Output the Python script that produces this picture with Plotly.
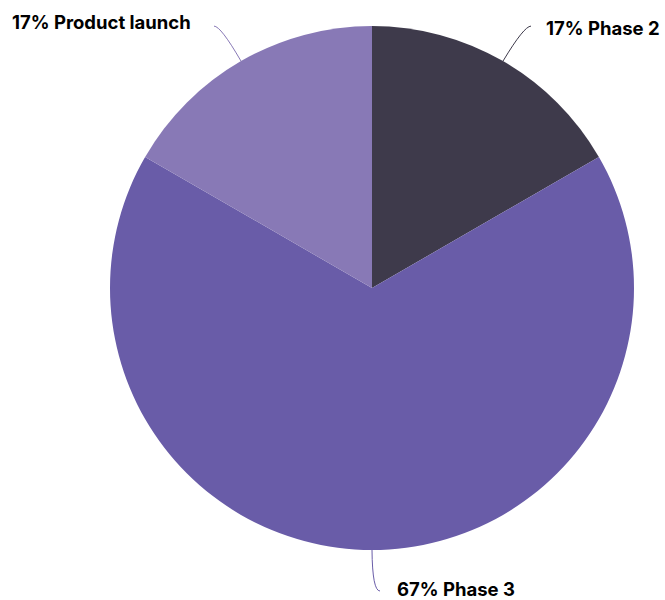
import math
import plotly.graph_objects as go

labels = ["Phase 2", "Phase 3", "Product launch"]
values = [1, 4, 1]
colors = ["#3e3a4b", "#695ca8", "#8879b6"]

W, H = 665, 600
CX, CY, R = 372, 288, 262

# label layout: (end dx, end dy from slice edge point, control-k, text side, text dx, text dy)
label_layout = {
    "Phase 2": dict(edx=28, edy=-35, k=0.75, side="left", tdx=14, tdy=2),
    "Phase 3": dict(edx=8, edy=41, k=0.05, side="left", tdx=16, tdy=-2),
    "Product launch": dict(edx=-27, edy=-35, k=0.75, side="right", tdx=-22, tdy=-4),
}

fig = go.Figure(go.Pie(
    labels=labels, values=values, sort=False, direction="clockwise", rotation=0,
    marker=dict(colors=colors, line=dict(width=0)),
    textinfo="none", hoverinfo="label+percent",
    domain=dict(x=[(CX - R) / W, (CX + R) / W], y=[1 - (CY + R) / H, 1 - (CY - R) / H]),
    showlegend=False,
))

def px(x, y):
    return x / W, 1 - y / H

total = sum(values)
cum = 0
shapes, annotations = [], []
for lab, v, col in zip(labels, values, colors):
    mid = (cum + v / 2) / total * 2 * math.pi
    cum += v
    L = label_layout[lab]
    Px, Py = CX + R * math.sin(mid), CY - R * math.cos(mid)
    Ex, Ey = Px + L["edx"], Py + L["edy"]
    Cx, Cy = Px + L["k"] * (Ex - Px), Ey
    p1, c1, e1 = px(Px, Py), px(Cx, Cy), px(Ex, Ey)
    shapes.append(dict(
        type="path", xref="paper", yref="paper",
        path=f"M {p1[0]},{p1[1]} Q {c1[0]},{c1[1]} {e1[0]},{e1[1]}",
        line=dict(color=col, width=1),
    ))
    tx, ty = px(Ex + L["tdx"], Ey + L["tdy"])
    annotations.append(dict(
        x=tx, y=ty, xref="paper", yref="paper", showarrow=False,
        text=f"<b>{round(100 * v / total)}% {lab}</b>",
        xanchor="left" if L["side"] == "left" else "right", yanchor="middle",
        borderpad=0,
        font=dict(family="Inter", size=18.5, color="#000000"),
    ))

fig.update_layout(
    width=W, height=H, margin=dict(l=0, r=0, t=0, b=0),
    paper_bgcolor="white", plot_bgcolor="white",
    shapes=shapes, annotations=annotations,
)
fig.write_html("out.html", config={"displayModeBar": False},
               post_script="document.body.style.margin='0';")
